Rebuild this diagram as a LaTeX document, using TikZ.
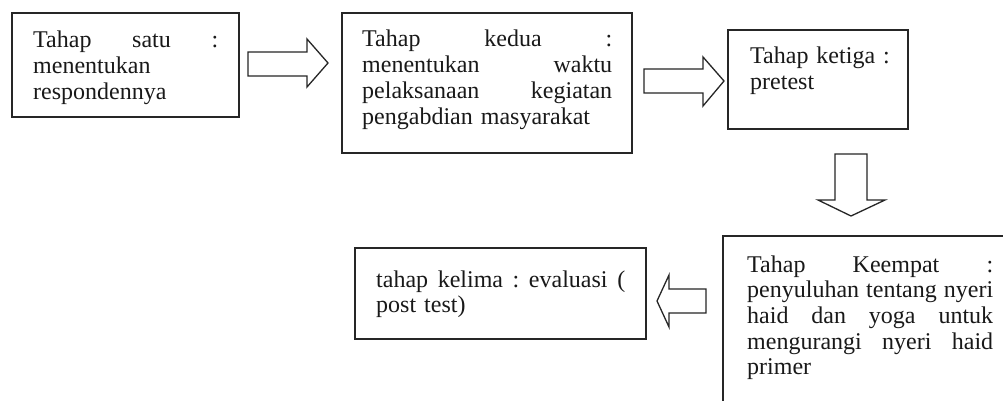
\documentclass[tikz,border=0pt]{standalone}
\usepackage{fontspec}
\setmainfont{Liberation Serif}
\begin{document}
\begin{tikzpicture}[x=1pt,y=-1pt,
  box/.style={draw=black!85,line width=1.5pt,inner sep=0pt},
  txt/.style={anchor=base west,inner sep=0pt,align=left,
    font=\fontsize{24}{25.7}\selectfont,text=black!90},
  blockarrow/.style={draw=black!85,line width=1.3pt,line join=miter,fill=white}]
\clip (0,0) rectangle (1003,401);
\fill[white] (0,0) rectangle (1003,401);
% boxes
\draw[box] (12,13) rectangle (239,117) coordinate (b1);
\draw[box] (342,13) rectangle (632,153) coordinate (b2);
\draw[box] (728,30) rectangle (908,129) coordinate (b3);
\draw[box] (723,236) rectangle (1010,410) coordinate (b4);
\draw[box] (355,248) rectangle (646,339) coordinate (b5);
% texts
\node[txt,text width=185pt] (t1) at (33,48) {Tahap\hfill satu\hfill :\\menentukan\\respondennya};
\node[txt,text width=250pt] (t2) at (362,47) {Tahap\hfill kedua\hfill :\\menentukan\hfill waktu\\pelaksanaan\hfill kegiatan\\pengabdian masyarakat};
\node[txt,text width=150pt] (t3) at (750,64) {Tahap ketiga :\\pretest};
\node[txt,text width=246pt] (t4) at (747,272) {Tahap\hfill Keempat\hfill :\\penyuluhan\hfill tentang\hfill nyeri\\haid\hfill dan\hfill yoga\hfill untuk\\mengurangi\hfill nyeri\hfill haid\\primer};
\node[txt,text width=249pt] (t5) at (376,287) {tahap\hfill kelima\hfill :\hfill evaluasi\hfill (\\post test)};
% block arrows
\draw[blockarrow] (248,52) -- (307,52) -- (307,39) -- (328,63) -- (307,87) -- (307,76) -- (248,76) -- cycle;
\draw[blockarrow] (644,69) -- (703,69) -- (703,57) -- (724,81) -- (703,106) -- (703,93) -- (644,93) -- cycle;
\draw[blockarrow] (835,154) -- (867,154) -- (867,200) -- (885,200) -- (851,216) -- (818,200) -- (835,200) -- cycle;
\draw[blockarrow] (706,289) -- (669,289) -- (669,275) -- (657,301) -- (669,327) -- (669,313) -- (706,313) -- cycle;
\end{tikzpicture}
\end{document}
